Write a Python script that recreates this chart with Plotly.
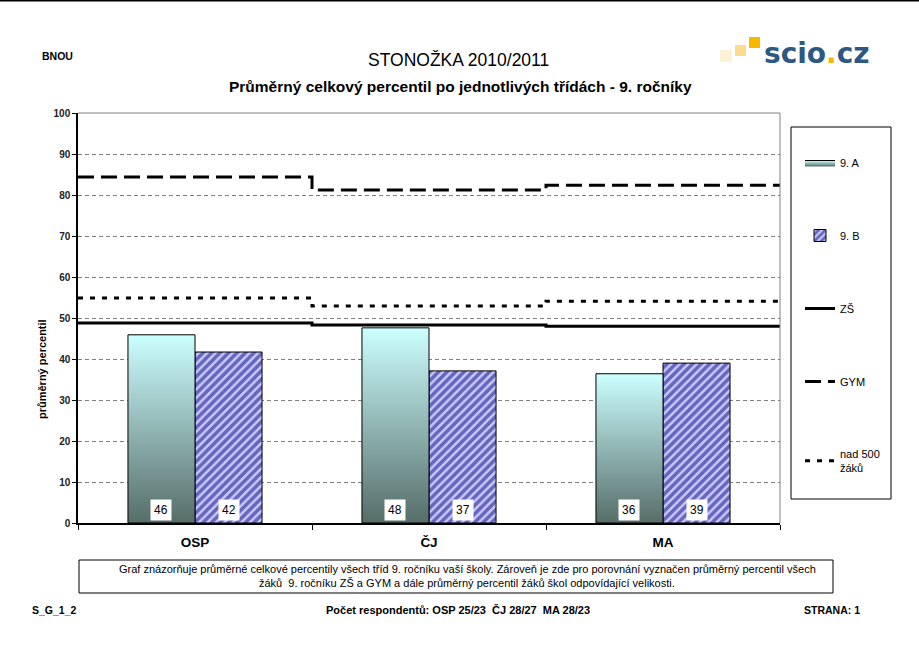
import plotly.graph_objects as go

# ---- data ----
categories = ["OSP", "ČJ", "MA"]
class_9a = [45.9, 47.6, 36.4]
class_9b = [41.7, 37.1, 39.0]
zs_avg = [48.8, 48.3, 48.0]
gym_avg = [84.4, 81.2, 82.4]
nad500_avg = [54.9, 52.9, 54.1]
y_ticks = [0, 10, 20, 30, 40, 50, 60, 70, 80, 90, 100]

# ---- layout constants ----
W, H = 919, 659
L, R, T, B = 78, 780, 113, 523
FONT = "Liberation Sans, Arial, sans-serif"
BARGAP = 0.427
BW = (1 - BARGAP) / 2

def px(x):
    return (x - L) / (R - L)

def py(y):
    return (B - y) / (B - T)

centers = [i + 0.5 for i in range(len(categories))]

fig = go.Figure()

# 9.A bars with vertical gradient (scatter fills on the data axes)
for i, (c, v) in enumerate(zip(centers, class_9a)):
    fig.add_trace(go.Scatter(
        x=[c - BW, c - BW, c, c, c - BW], y=[0, v, v, 0, 0],
        mode="lines", fill="toself",
        line=dict(color="black", width=1),
        fillgradient=dict(type="vertical",
                          colorscale=[[0, "#566d69"], [1, "#ccffff"]],
                          start=0, stop=v),
        name="9. A", legendgroup="a", showlegend=(i == 0),
        hoverinfo="skip",
    ))

# 9.B bars, hatched
fig.add_trace(go.Bar(
    x=centers, y=class_9b, width=BW, offset=0, name="9. B", legendgroup="b",
    marker=dict(color="#ccccff", line=dict(color="black", width=1),
                pattern=dict(shape="/", fgcolor="#000080", bgcolor="#ccccff",
                             size=6, solidity=0.6)),
))

def step(vals):
    xs = list(range(len(vals) + 1))
    ys = list(vals) + [vals[-1]]
    return xs, ys

for name, vals, dash, grp in [("ZŠ", zs_avg, "solid", "c"),
                              ("GYM", gym_avg, "16px,7px", "d"),
                              ("nad 500<br>žáků", nad500_avg, "5px,7px", "e")]:
    xs, ys = step(vals)
    fig.add_trace(go.Scatter(x=xs, y=ys, mode="lines", line_shape="hv",
                             line=dict(color="black", width=3, dash=dash),
                             name=name, legendgroup=grp, hoverinfo="skip"))

annotations = []
# value labels
for c, v in zip(centers, class_9a):
    annotations.append(dict(x=c - BW / 2, y=3.2, xref="x", yref="y", text=str(round(v)),
                            showarrow=False, bgcolor="white", borderpad=3,
                            font=dict(family=FONT, size=12, color="black")))
for c, v in zip(centers, class_9b):
    annotations.append(dict(x=c + BW / 2, y=3.2, xref="x", yref="y", text=str(round(v)),
                            showarrow=False, bgcolor="white", borderpad=3,
                            font=dict(family=FONT, size=12, color="black")))

def txt(x, y, text, size, bold=False, xanchor="center", color="black", family=FONT, angle=0):
    annotations.append(dict(x=px(x), y=py(y), xref="paper", yref="paper", text=text,
                            showarrow=False, xanchor=xanchor, yanchor="middle",
                            textangle=angle,
                            font=dict(family=family, size=size, color=color,
                                      weight="bold" if bold else "normal")))

txt(459, 60, "STONOŽKA 2010/2011", 17.5)
txt(460, 87, "Průměrný celkový percentil po jednotlivých třídách - 9. ročníky", 15.5, bold=True)
txt(40, 56, "BNOU", 10.5, bold=True, xanchor="left")
txt(762, 53, "scio<span style='color:#f2b705'>.</span>cz", 28, bold=True, xanchor="left",
    color="#2d5884", family="DejaVu Sans, sans-serif")
txt(42, 369, "průměrný percentil", 11, bold=True, angle=-90)
txt(467, 569, "Graf znázorňuje průměrné celkové percentily všech tříd 9. ročníku vaší školy. "
    "Zároveň je zde pro porovnání vyznačen průměrný percentil všech", 11)
txt(467, 583, "žáků  9. ročníku ZŠ a GYM a dále průměrný percentil žáků škol odpovídající velikosti.", 11)
txt(30, 610, "S_G_1_2", 10.5, bold=True, xanchor="left")
txt(458, 610, "Počet respondentů: OSP 25/23  ČJ 28/27  MA 28/23", 11, bold=True)
txt(862, 610, "STRANA: 1", 10.5, bold=True, xanchor="right")

shapes = [
    # page top line
    dict(type="line", xref="paper", yref="paper", x0=px(0), x1=px(W), y0=py(0.8), y1=py(0.8),
         line=dict(color="black", width=1.5)),
    # plot border (top/right gray)
    dict(type="line", xref="paper", yref="paper", x0=0, x1=1, y0=1, y1=1,
         line=dict(color="#808080", width=1)),
    dict(type="line", xref="paper", yref="paper", x0=1, x1=1, y0=0, y1=1,
         line=dict(color="#808080", width=1)),
    # legend box
    dict(type="rect", xref="paper", yref="paper", x0=px(791), x1=px(891), y0=py(499), y1=py(127),
         line=dict(color="black", width=1)),
    # description box
    dict(type="rect", xref="paper", yref="paper", x0=px(79), x1=px(833), y0=py(593), y1=py(560),
         line=dict(color="black", width=1)),
    # logo squares
    dict(type="rect", xref="paper", yref="paper", x0=px(720), x1=px(732), y0=py(62), y1=py(50),
         line=dict(width=0), fillcolor="#fdf1d6"),
    dict(type="rect", xref="paper", yref="paper", x0=px(735), x1=px(746), y0=py(56), y1=py(45),
         line=dict(width=0), fillcolor="#fbdc8c"),
    dict(type="rect", xref="paper", yref="paper", x0=px(749), x1=px(760), y0=py(48), y1=py(37),
         line=dict(width=0), fillcolor="#f7b800"),
]

fig.update_layout(
    width=W, height=H,
    margin=dict(l=L, r=W - R, t=T, b=H - B, pad=0),
    paper_bgcolor="white", plot_bgcolor="white",
    font=dict(family=FONT, size=10, color="black"),
    showlegend=True,
    legend=dict(x=px(800), y=py(148), xanchor="left", yanchor="top",
                bgcolor="rgba(0,0,0,0)", borderwidth=0, tracegroupgap=54,
                traceorder="grouped", font=dict(family=FONT, size=11, color="black"),
                itemwidth=30),
    xaxis=dict(range=[0, len(categories)], tickvals=centers, ticktext=categories,
               ticks="", showgrid=False, zeroline=False,
               showline=True, linecolor="black", linewidth=1.5,
               ticklabelstandoff=6,
               tickfont=dict(family=FONT, size=13.5, color="black", weight="bold"),
               minor=dict(tickvals=list(range(len(categories) + 1)), ticks="outside",
                          ticklen=5, tickcolor="black", showgrid=False)),
    yaxis=dict(range=[0, 100], tickvals=y_ticks, ticks="outside", ticklen=4, tickcolor="black",
               showgrid=True, gridcolor="#808080", griddash="4px,3px", gridwidth=1,
               zeroline=False, showline=True, linecolor="black", linewidth=1.5,
               tickfont=dict(family=FONT, size=10, color="#222", weight="bold")),
    annotations=annotations, shapes=shapes,
)

fig.write_html("out.html", config={"displayModeBar": False},
               post_script="document.body.style.margin='0px';")
